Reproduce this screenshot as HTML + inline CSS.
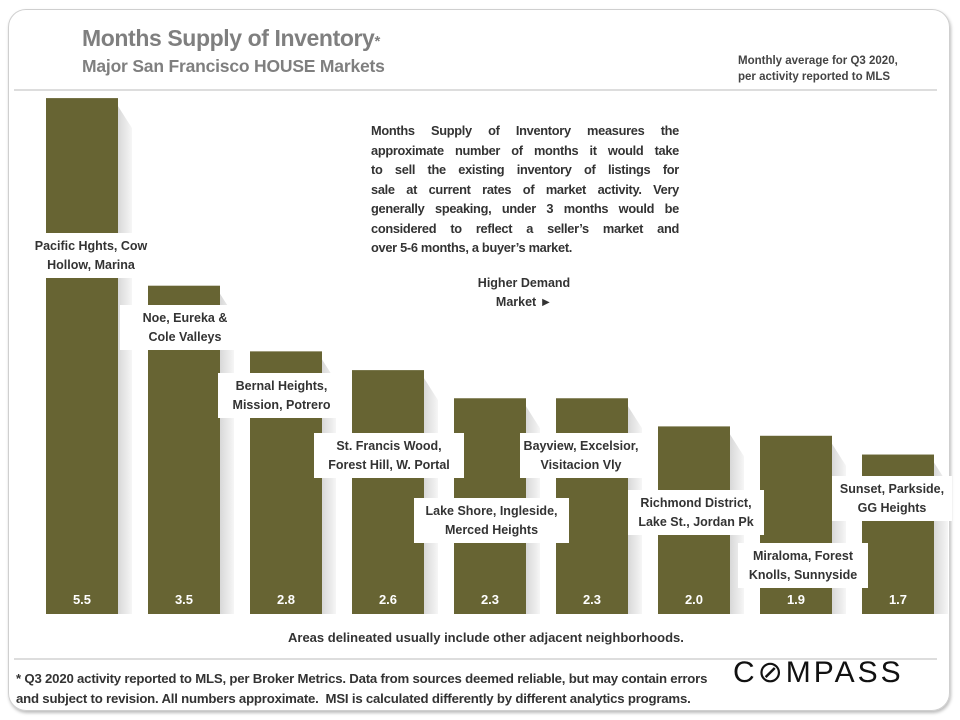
<!DOCTYPE html>
<html><head><meta charset="utf-8">
<style>
body{margin:0;width:960px;height:720px;background:#fff;font-family:"Liberation Sans",sans-serif;position:relative;overflow:hidden}
.frame{position:absolute;left:8px;top:9px;width:940px;height:700px;border:1px solid #cfcfcf;border-radius:18px;box-shadow:1px 2px 3px #bbb}
.t1{position:absolute;left:82px;top:25px;font-size:23px;font-weight:bold;color:#7f7f7f;letter-spacing:-0.4px}
.t2{position:absolute;left:82px;top:56px;font-size:17.5px;font-weight:bold;color:#7f7f7f;letter-spacing:-0.2px}
.sub{position:absolute;left:738px;top:53px;font-size:11.5px;font-weight:bold;color:#444;line-height:16px}
.hr{position:absolute;left:14px;width:923px;height:2px;background:#ddd}
.lbl{position:absolute;background:#fff;color:#333;font-weight:bold;font-size:12.5px;line-height:19px;text-align:center;display:flex;align-items:center;justify-content:center;white-space:nowrap}
.note{position:absolute;left:365px;top:113px;width:320px;height:147px;background:#fff;box-sizing:border-box;padding:8px 6px;font-size:12.8px;font-weight:bold;color:#333;line-height:19.5px;letter-spacing:-0.3px}
.note div{text-align:justify;text-align-last:justify;white-space:nowrap}
.note div.last{text-align-last:left}
.foot{position:absolute;left:16px;top:669px;font-size:13.2px;color:#333;font-weight:bold;line-height:20px;letter-spacing:-0.2px;white-space:nowrap}
.logo{position:absolute;left:733px;top:655px;font-size:30px;letter-spacing:3px;color:#111}
.area{position:absolute;left:288px;top:630px;font-size:13px;font-weight:bold;color:#333}
</style></head><body>
<div class="frame"></div>
<div class="t1">Months Supply of Inventory<span style="font-size:15px">*</span></div>
<div class="t2">Major San Francisco HOUSE Markets</div>
<div class="sub">Monthly average for Q3 2020,<br>per activity reported to MLS</div>
<div class="hr" style="top:89px"></div>
<div class="hr" style="top:658px"></div>
<svg id="chart" width="960" height="720" style="position:absolute;left:0;top:0"></svg>
<div id="labels"></div>
<div class="note">
<div>Months Supply of Inventory measures the</div>
<div>approximate number of months it would take</div>
<div>to sell the existing inventory of listings for</div>
<div>sale at current rates of market activity. Very</div>
<div>generally speaking, under 3 months would be</div>
<div>considered to reflect a seller’s market and</div>
<div class="last">over 5-6 months, a buyer’s market.</div>
</div>
<div class="lbl" style="left:463px;top:270px;width:122px;height:46px">Higher Demand<br>Market ►</div>
<div class="area">Areas delineated usually include other adjacent neighborhoods.</div>
<div class="foot">* Q3 2020 activity reported to MLS, per Broker Metrics. Data from sources deemed reliable, but may contain errors<br>and subject to revision. All numbers approximate.&nbsp; MSI is calculated differently by different analytics programs.</div>
<div class="logo">C&#8856;MPASS</div>
<script>
const categories=["Pacific Hghts, Cow|Hollow, Marina","Noe, Eureka &|Cole Valleys","Bernal Heights,|Mission, Potrero","St. Francis Wood,|Forest Hill, W. Portal","Lake Shore, Ingleside,|Merced Heights","Bayview, Excelsior,|Visitacion Vly","Richmond District,|Lake St., Jordan Pk","Miraloma, Forest|Knolls, Sunnyside","Sunset, Parkside,|GG Heights"];
const values=[5.5,3.5,2.8,2.6,2.3,2.3,2.0,1.9,1.7];
const valueLabels=["5.5","3.5","2.8","2.6","2.3","2.3","2.0","1.9","1.7"];
const labelBoxes=[[18,233,146],[120,305,130],[218,373,127],[314,433,150],[414,498,155],[520,433,122],[628,490,136],[738,543,130],[832,476,120]];
const baseY=614, pxPerUnit=93.8, x0=46, step=102, bw=72;
function yScale(v){return baseY-v*pxPerUnit;}
function xScale(i){return x0+i*step;}
const svg=document.getElementById('chart');
const NS="http://www.w3.org/2000/svg";
const defs=document.createElementNS(NS,'defs');
defs.innerHTML='<linearGradient id="sg" x1="0" x2="1" y1="0" y2="0"><stop offset="0" stop-color="#d8d8d8"/><stop offset="1" stop-color="#f6f6f6"/></linearGradient>';
svg.appendChild(defs);
values.forEach((v,i)=>{
  const sh=document.createElementNS(NS,'polygon');
  const x=xScale(i)+bw, yt=yScale(v);
  sh.setAttribute('points',`${x},${yt+8} ${x+14},${yt+30} ${x+14},${baseY} ${x},${baseY}`);
  sh.setAttribute('fill','url(#sg)');
  
  
  svg.appendChild(sh);
  const r=document.createElementNS(NS,'rect');
  r.setAttribute('x',xScale(i));r.setAttribute('y',yt);
  r.setAttribute('width',bw);r.setAttribute('height',baseY-yt);
  r.setAttribute('fill','#676433');
  
  
  svg.appendChild(r);
  const t=document.createElementNS(NS,'text');
  t.setAttribute('x',xScale(i)+bw/2);t.setAttribute('y',baseY-10);
  t.setAttribute('text-anchor','middle');t.setAttribute('fill','#fff');
  t.setAttribute('font-size','13');t.setAttribute('font-weight','bold');
  t.setAttribute('font-family','Liberation Sans, sans-serif');
  t.textContent=valueLabels[i];
  
  
  svg.appendChild(t);
});
const lab=document.getElementById('labels');
categories.forEach((c,i)=>{
  const d=document.createElement('div');
  d.className='lbl';
  const b=labelBoxes[i];
  d.style.left=b[0]+'px';d.style.top=b[1]+'px';d.style.width=b[2]+'px';d.style.height='45px';
  d.innerHTML=c.split('|').join('<br>');
  
  
  lab.appendChild(d);
});
</script>
</body></html>
